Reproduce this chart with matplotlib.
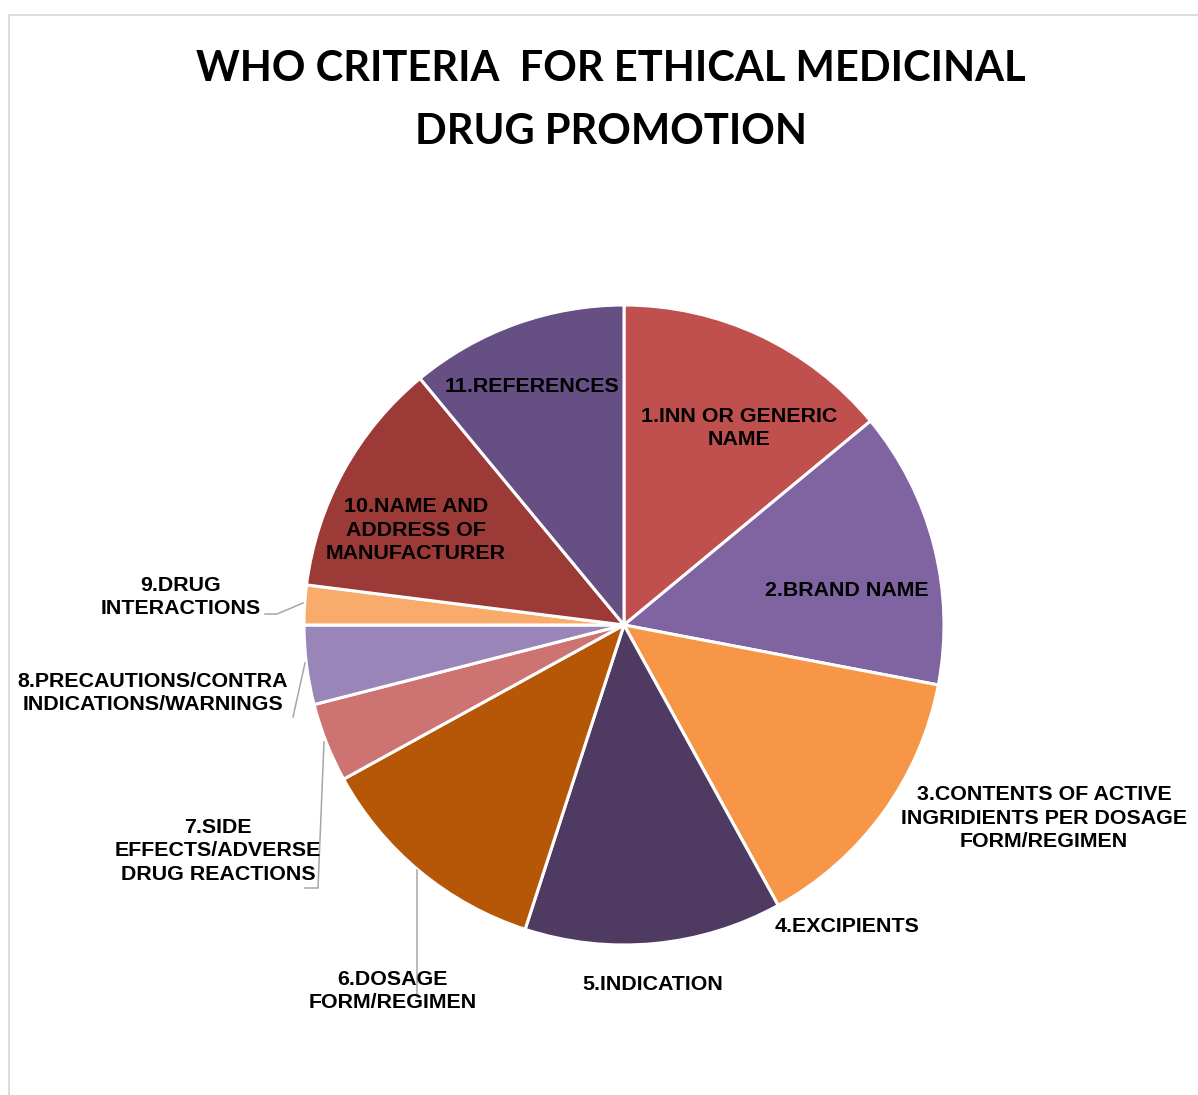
import matplotlib
matplotlib.use("Agg")
import matplotlib.pyplot as plt
from matplotlib.patches import Rectangle

# ---- data ----
categories = [
    "1.INN OR GENERIC\nNAME",
    "2.BRAND NAME",
    "3.CONTENTS OF ACTIVE\nINGRIDIENTS PER DOSAGE\nFORM/REGIMEN",
    "4.EXCIPIENTS",
    "5.INDICATION",
    "6.DOSAGE\nFORM/REGIMEN",
    "7.SIDE\nEFFECTS/ADVERSE\nDRUG REACTIONS",
    "8.PRECAUTIONS/CONTRA\nINDICATIONS/WARNINGS",
    "9.DRUG\nINTERACTIONS",
    "10.NAME AND\nADDRESS OF\nMANUFACTURER",
    "11.REFERENCES",
]
values = [14, 14, 14, 0, 13, 12, 4, 4, 2, 12, 11]
title = "WHO CRITERIA  FOR ETHICAL MEDICINAL\nDRUG PROMOTION"

# ---- style / layout ----
colors = ["#C0504D", "#8064A2", "#F79646", "#9B3B39", "#4F3B62", "#B65708",
          "#CD7371", "#9A85B8", "#F9AB6B", "#9C3A38", "#654F83"]
W, H = 1198, 1095
CX, CY, R = 624, 625, 320  # image pixel coords (y down)

# label centres (image px)
label_pos = [(739, 428), (847, 590), (1044, 818), (847, 926), (653, 984),
             (393, 991), (218, 851), (153, 693), (181, 597), (416, 530),
             (532, 386)]
# leader lines (image px)
leaders = {
    5: [(417, 870), (417, 997)],
    6: [(324, 742), (318, 888), (305, 888)],
    7: [(305, 663), (293, 717)],
    8: [(303, 603), (277, 614), (265, 614)],
}

fig = plt.figure(figsize=(W / 100, H / 100), dpi=100)
ax = fig.add_axes([0, 0, 1, 1])

ax.pie(values, colors=colors, startangle=90, counterclock=False,
       center=(CX, H - CY), radius=R,
       wedgeprops=dict(edgecolor="white", linewidth=2.2))
ax.set_xlim(0, W)
ax.set_ylim(0, H)
ax.set_aspect("auto")
ax.axis("off")

# chart border
ax.add_patch(Rectangle((9, -20), W + 50, H - 15 + 20, fill=False,
                       edgecolor="#D9D9D9", linewidth=1.3, zorder=0))

for pts in leaders.values():
    xs = [p[0] for p in pts]
    ys = [H - p[1] for p in pts]
    ax.plot(xs, ys, color="#A6A6A6", linewidth=1.1, zorder=1)

for lab, (x, y) in zip(categories, label_pos):
    ax.text(x, H - y, lab, ha="center", va="center", fontsize=15.4,
            fontweight="bold", family="Liberation Sans", color="black",
            linespacing=1.28, zorder=5)

ax.text(611, H - 100.5, title, ha="center", va="center", fontsize=30,
        fontweight="bold", family="Lato", color="black", linespacing=1.78)

fig.savefig("out.png", dpi=100)
